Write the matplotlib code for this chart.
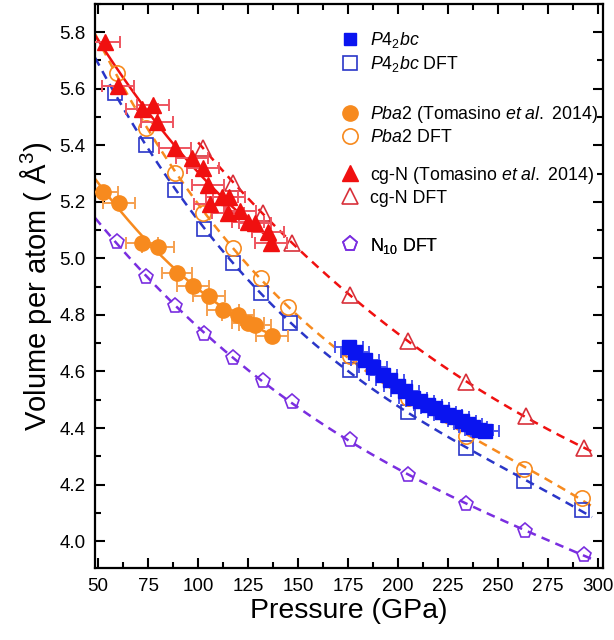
import numpy as np
import matplotlib.pyplot as plt
from matplotlib.lines import Line2D

plt.rcParams['font.family'] = ['Liberation Sans', 'DejaVu Sans']
plt.rcParams['mathtext.fontset'] = 'custom'
plt.rcParams['mathtext.rm'] = 'Liberation Sans'
plt.rcParams['mathtext.it'] = 'Liberation Sans:italic'

# --- experimental data (Tomasino et al. 2014 and P4_2bc) ---
p42bc_p = [175.5, 178.5, 183.5, 187.5, 192.5, 196, 200, 203.5, 207.5, 211,
           215, 218.5, 222, 225, 228.5, 232, 235, 237.5, 240.5, 243.5]
p42bc_v = [4.686, 4.668, 4.640, 4.615, 4.587, 4.569, 4.548, 4.531, 4.506, 4.495,
           4.481, 4.470, 4.456, 4.446, 4.439, 4.425, 4.414, 4.403, 4.393, 4.389]
p42bc_err = [7] * len(p42bc_p)

pba2_p = [52.5, 60.5, 72.0, 80.0, 89.5, 97.5, 105.5, 112.5, 120.0, 125.0, 128.5, 137.0]
pba2_v = [5.234, 5.195, 5.054, 5.040, 4.948, 4.902, 4.866, 4.817, 4.799, 4.771, 4.764, 4.725]
pba2_err = [7.5, 8, 8, 8, 7.5, 8, 8, 8, 8, 8, 8, 8]

cgn_p = [53.5, 60.0, 72.0, 77.5, 79.5, 88.5, 97.0, 102.5, 105.0, 112.0, 115.5,
         106.0, 115.0, 121.0, 125.0, 128.5, 135.0, 136.5]
cgn_v = [5.765, 5.609, 5.528, 5.542, 5.482, 5.390, 5.354, 5.319, 5.259, 5.217, 5.217,
         5.192, 5.160, 5.167, 5.128, 5.125, 5.093, 5.054]
cgn_err = [7.5, 8, 8, 8, 8, 8, 8, 8, 8, 8, 8, 8, 8, 8, 8, 8, 8, 8]

# --- DFT data ---
p42bc_dft_p = [58.5, 74, 88.5, 103, 117.5, 131.5, 146, 176, 205, 234, 263, 292]
p42bc_dft_v = [5.584, 5.400, 5.241, 5.103, 4.983, 4.877, 4.771, 4.605, 4.456, 4.329, 4.212, 4.110]

pba2_dft_p = [59.5, 74, 88.5, 102.5, 117.5, 131.5, 145, 176, 205, 234, 263, 292]
pba2_dft_v = [5.655, 5.461, 5.301, 5.160, 5.036, 4.930, 4.828, 4.654, 4.506, 4.371, 4.255, 4.152]

cgn_dft_p = [102.5, 117.5, 132.5, 147, 176, 205, 234, 264, 293]
cgn_dft_v = [5.390, 5.266, 5.160, 5.054, 4.870, 4.707, 4.562, 4.442, 4.329]

n10_dft_p = [59.5, 74, 88.5, 103, 117.5, 132.5, 147, 176, 205, 234, 263.5, 293]
n10_dft_v = [5.057, 4.934, 4.831, 4.732, 4.647, 4.566, 4.492, 4.357, 4.234, 4.131, 4.036, 3.951]

blue = '#0a14f0'
blue_dft = '#2a36c8'
orange = '#f78a1e'
red = '#f01010'
red_dft = '#d8303a'
purple = '#7a2ee0'

fig = plt.figure(figsize=(6.14, 6.4), dpi=100)
ax = fig.add_axes([0.155, 0.1125, 0.827, 0.8815])


def fit_line(p, v, lo, hi, deg):
    c = np.polyfit(p, v, deg)
    xx = np.linspace(lo, hi, 200)
    return xx, np.polyval(c, xx)


dash = (3.5, 2.5)
# dashed DFT fits
for p, v, col, lo in [(p42bc_dft_p, p42bc_dft_v, blue_dft, 48.5),
                      (pba2_dft_p, pba2_dft_v, orange, 48.5),
                      (cgn_dft_p, cgn_dft_v, red, 100),
                      (n10_dft_p, n10_dft_v, purple, 48.5)]:
    xx, yy = fit_line(p, v, lo, 297, 3)
    ax.plot(xx, yy, color=col, lw=1.8, dashes=dash, zorder=2)

# solid experimental fits
xx, yy = fit_line(pba2_p, pba2_v, 48.5, 140, 2)
ax.plot(xx, yy, color=orange, lw=1.8, zorder=2)
xx, yy = fit_line(cgn_p, cgn_v, 48.5, 139, 2)
ax.plot(xx, yy, color=red, lw=1.8, zorder=2)

# DFT markers
ax.plot(p42bc_dft_p, p42bc_dft_v, 's', ms=10, mfc='none', mec=blue_dft, mew=1.2, zorder=4)
ax.plot(pba2_dft_p, pba2_dft_v, 'o', ms=11, mfc='none', mec=orange, mew=1.2, zorder=4)
ax.plot(cgn_dft_p, cgn_dft_v, '^', ms=11, mfc='none', mec=red_dft, mew=1.2, zorder=4)
ax.plot(n10_dft_p, n10_dft_v, 'p', ms=11, mfc='none', mec=purple, mew=1.2, zorder=4)

# experimental points with horizontal error bars
ax.errorbar(p42bc_p, p42bc_v, xerr=p42bc_err, fmt='s', ms=10, color=blue,
            ecolor='#4a55ee', elinewidth=1.4, capsize=4, capthick=1.4, zorder=5)
ax.errorbar(pba2_p, pba2_v, xerr=pba2_err, fmt='o', ms=11, color=orange,
            ecolor='#f5a050', elinewidth=1.4, capsize=4, capthick=1.4, zorder=5)
ax.errorbar(cgn_p, cgn_v, xerr=cgn_err, fmt='^', ms=11, color=red,
            ecolor='#ee5560', elinewidth=1.4, capsize=4, capthick=1.4, zorder=5)

ax.set_xlim(48.5, 302.5)
ax.set_ylim(3.905, 5.9)
ax.set_xticks(np.arange(50, 301, 25))
ax.set_xticks(np.arange(62.5, 300, 25), minor=True)
ax.set_yticks(np.arange(4.0, 5.81, 0.2))
ax.set_yticks(np.arange(4.1, 5.9, 0.2), minor=True)
ax.set_yticklabels(['%.1f' % t for t in np.arange(4.0, 5.81, 0.2)])
ax.tick_params(which='both', direction='in', top=True, right=True, width=1.5,
               labelsize=13.5, pad=7)
ax.tick_params(which='major', length=7)
ax.tick_params(which='minor', length=4)
for s in ax.spines.values():
    s.set_linewidth(1.6)

ax.set_xlabel('Pressure (GPa)', fontsize=20.5, labelpad=2)
ax.set_ylabel('Volume per atom ( Å$^3$)', fontsize=21, labelpad=4)

# legend in four groups
groups = [
    ([Line2D([], [], ls='none', marker='s', ms=9, color=blue),
      Line2D([], [], ls='none', marker='s', ms=10, mfc='none', mec=blue_dft, mew=1.2)],
     [r'$P4_2bc$', r'$P4_2bc$ DFT'], 0.953),
    ([Line2D([], [], ls='none', marker='o', ms=11, color=orange),
      Line2D([], [], ls='none', marker='o', ms=11, mfc='none', mec=orange, mew=1.2)],
     [r'$Pba$2 (Tomasino $et\ al.$ 2014)', r'$Pba$2 DFT'], 0.822),
    ([Line2D([], [], ls='none', marker='^', ms=11, color=red),
      Line2D([], [], ls='none', marker='^', ms=11, mfc='none', mec=red_dft, mew=1.2)],
     [r'cg-N (Tomasino $et\ al.$ 2014)', 'cg-N DFT'], 0.715),
    ([Line2D([], [], ls='none', marker='p', ms=11, mfc='none', mec=purple, mew=1.2)],
     [r'N$_{10}$ DFT'], 0.589),
]
for handles, labels, ytop in groups:
    leg = ax.legend(handles, labels, loc='upper left', bbox_to_anchor=(0.486, ytop),
                    frameon=False, fontsize=12.8, borderpad=0, borderaxespad=0,
                    handlelength=0.95, handletextpad=0.62, labelspacing=0.22)
    ax.add_artist(leg)

fig.savefig('out.png', dpi=100)
